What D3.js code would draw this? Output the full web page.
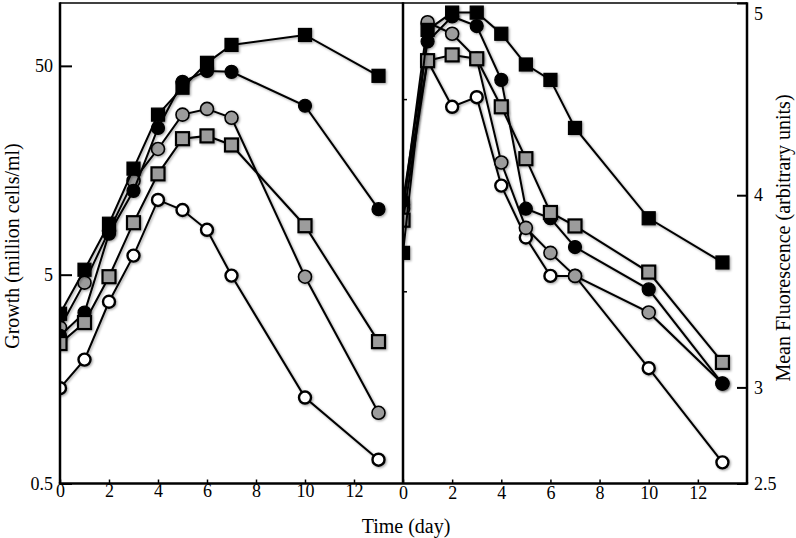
<!DOCTYPE html>
<html>
<head>
<meta charset="utf-8">
<script src="https://cdn.jsdelivr.net/npm/d3@7/dist/d3.min.js"></script>
<style>
  html, body { margin: 0; padding: 0; background: #fff; }
  svg { display: block; font-family: "Liberation Serif", "Times New Roman", serif; }
</style>
</head>
<body>
<svg id="chart" width="796" height="538"></svg>
<script>
// ---- data ----
const days = [0, 1, 2, 3, 4, 5, 6, 7, 10, 13];
const xTicks = [0, 2, 4, 6, 8, 10, 12];
const growthTicks = [0.5, 5, 50];
const fluorTicks = [2.5, 3, 4, 5];
const fluorMinorTicks = [3.5, 4.5];

const growthOpenCircle = [1.43, 1.96, 3.71, 6.17, 11.4, 10.2, 8.2, 4.95, 1.29, 0.65];
const growthGrayCircle = [2.79, 4.58, 8.1, 14.1, 20.0, 29.2, 31.1, 28.2, 4.89, 1.09];
const growthBlackCircle = [2.55, 3.29, 7.85, 12.6, 25.2, 41.9, 47.3, 46.8, 32.2, 10.3];
const growthGraySquare = [2.34, 2.95, 4.89, 8.87, 15.2, 22.4, 23.1, 20.9, 8.58, 2.39];
const growthBlackSquare = [3.25, 5.28, 8.77, 16.1, 29.2, 39.3, 51.7, 63.0, 70.3, 44.8];

const fluorOpenCircle = [3.95, 4.70, 4.46, 4.51, 4.05, 3.78, 3.58, 3.58, 3.10, 2.61];
const fluorGrayCircle = [3.93, 4.90, 4.84, 4.71, 4.17, 3.83, 3.70, 3.58, 3.39, 3.02];
const fluorBlackCircle = [3.97, 4.80, 4.93, 4.88, 4.60, 3.93, 3.88, 3.73, 3.51, 3.02];
const fluorGraySquare = [3.87, 4.70, 4.73, 4.71, 4.46, 4.19, 3.91, 3.84, 3.60, 3.13];
const fluorBlackSquare = [3.70, 4.86, 4.95, 4.95, 4.84, 4.68, 4.60, 4.35, 3.88, 3.65];

const seriesStyles = [
  { key: "open", shape: "circle", fill: "#ffffff", sw: 2.4 },
  { key: "grayCircle", shape: "circle", fill: "#9c9c9c", sw: 1.6 },
  { key: "blackCircle", shape: "circle", fill: "#000000", sw: 1.2 },
  { key: "graySquare", shape: "square", fill: "#9c9c9c", sw: 2.2 },
  { key: "blackSquare", shape: "square", fill: "#000000", sw: 1.2 }
];
const growthSeries = {
  open: growthOpenCircle, grayCircle: growthGrayCircle, blackCircle: growthBlackCircle,
  graySquare: growthGraySquare, blackSquare: growthBlackSquare
};
const fluorSeries = {
  open: fluorOpenCircle, grayCircle: fluorGrayCircle, blackCircle: fluorBlackCircle,
  graySquare: fluorGraySquare, blackSquare: fluorBlackSquare
};

// ---- layout ----
const PL = { x0: 60, x1: 403 };
const PR = { x0: 403, x1: 747 };
const plotTop = 3, plotBottom = 483.5;
const FONT = '"Liberation Serif", "Times New Roman", serif';

const xL = d3.scaleLinear().domain([0, 14]).range([PL.x0, PL.x1]);
const xR = d3.scaleLinear().domain([0, 14]).range([PR.x0, PR.x1]);
const yL = d3.scaleLog().domain([0.5, 100]).range([plotBottom, plotTop]);
const yR = d3.scaleLinear().domain([2.5, 5]).range([plotBottom, plotTop]);

const svg = d3.select("#chart");
const defs = svg.append("defs");
const f = defs.append("filter").attr("id", "shadow").attr("x", "-20%").attr("y", "-20%").attr("width", "140%").attr("height", "140%");
f.append("feDropShadow").attr("dx", 1.2).attr("dy", 1.2).attr("stdDeviation", 1).attr("flood-color", "#000").attr("flood-opacity", 0.35);

defs.append("clipPath").attr("id", "clipL").append("rect")
  .attr("x", PL.x0).attr("y", 0).attr("width", PL.x1 - PL.x0).attr("height", plotBottom);
defs.append("clipPath").attr("id", "clipR").append("rect")
  .attr("x", PR.x0).attr("y", 0).attr("width", PR.x1 - PR.x0).attr("height", plotBottom);

function drawSeries(clipId, x, y, data) {
  const g = svg.append("g").attr("clip-path", `url(#${clipId})`);
  const line = d3.line().x((d, i) => x(days[i])).y(d => y(d));
  seriesStyles.forEach(s => {
    const vals = data[s.key];
    const sg = g.append("g").attr("filter", "url(#shadow)");
    sg.append("path").attr("d", line(vals)).attr("fill", "none")
      .attr("stroke", "#000").attr("stroke-width", 2);
    if (s.shape === "circle") {
      sg.selectAll("circle").data(vals).join("circle")
        .attr("cx", (d, i) => x(days[i])).attr("cy", d => y(d))
        .attr("r", s.key === "open" ? 6 : 6.5)
        .attr("fill", s.fill).attr("stroke", "#000").attr("stroke-width", s.sw);
    } else {
      const half = 6.5;
      sg.selectAll("rect").data(vals).join("rect")
        .attr("x", (d, i) => x(days[i]) - half).attr("y", d => y(d) - half)
        .attr("width", half * 2).attr("height", half * 2)
        .attr("fill", s.fill).attr("stroke", "#000").attr("stroke-width", s.sw);
    }
  });
}

drawSeries("clipL", xL, yL, growthSeries);
drawSeries("clipR", xR, yR, fluorSeries);

// ---- axes ----
function styleAxis(g) {
  g.select(".domain").remove();
  g.selectAll(".tick line").attr("stroke", "#000").attr("stroke-width", 1.5);
  g.selectAll(".tick text").attr("fill", "#000").attr("font-size", 18).attr("font-family", FONT);
}

svg.append("g").attr("transform", `translate(0,${plotBottom})`)
  .call(d3.axisBottom(xL).tickValues(xTicks).tickSize(-4).tickPadding(1).tickFormat(d3.format("d")))
  .call(styleAxis);
svg.append("g").attr("transform", `translate(0,${plotBottom})`)
  .call(d3.axisBottom(xR).tickValues(xTicks).tickSize(-4).tickPadding(3).tickFormat(d3.format("d")))
  .call(styleAxis);

svg.append("g").attr("transform", `translate(${PL.x0},0)`)
  .call(d3.axisLeft(yL).tickValues(growthTicks).tickSize(-12).tickPadding(7).tickFormat(d => String(d)))
  .call(styleAxis)
  .call(g => g.selectAll(".tick line").attr("stroke-width", 2));

svg.append("g").attr("transform", `translate(${PR.x1},0)`)
  .call(d3.axisRight(yR).tickValues(fluorTicks).tickSize(-10).tickPadding(7).tickFormat(d => String(d)))
  .call(styleAxis)
  .call(g => g.selectAll(".tick line").attr("stroke-width", 2))
  .call(g => g.selectAll(".tick").filter(d => d === 5).select("text").attr("dy", "0.9em"));

svg.append("g").attr("transform", `translate(${PR.x0},0)`)
  .call(d3.axisRight(yR).tickValues(fluorMinorTicks).tickSize(4).tickFormat(""))
  .call(styleAxis);

// frame
svg.append("line").attr("x1", PL.x0).attr("x2", PR.x1).attr("y1", plotTop).attr("y2", plotTop)
  .attr("stroke", "#000").attr("stroke-width", 1.5);
svg.append("line").attr("x1", PL.x0 - 1.25).attr("x2", PR.x1 + 1.25).attr("y1", plotBottom).attr("y2", plotBottom)
  .attr("stroke", "#000").attr("stroke-width", 2.5);
[PL.x0, PR.x0, PR.x1].forEach(xv => {
  svg.append("line").attr("x1", xv).attr("x2", xv).attr("y1", plotTop - 0.75).attr("y2", plotBottom)
    .attr("stroke", "#000").attr("stroke-width", 2.5);
});

// labels
svg.append("text").attr("x", 406).attr("y", 533).attr("text-anchor", "middle")
  .attr("font-size", 20).text("Time (day)");
svg.append("text").attr("transform", "translate(19,246) rotate(-90)").attr("text-anchor", "middle")
  .attr("font-size", 20).text("Growth (million cells/ml)");
svg.append("text").attr("transform", "translate(790,238) rotate(-90)").attr("text-anchor", "middle")
  .attr("font-size", 20).text("Mean Fluorescence (arbitrary units)");
</script>
</body>
</html>
